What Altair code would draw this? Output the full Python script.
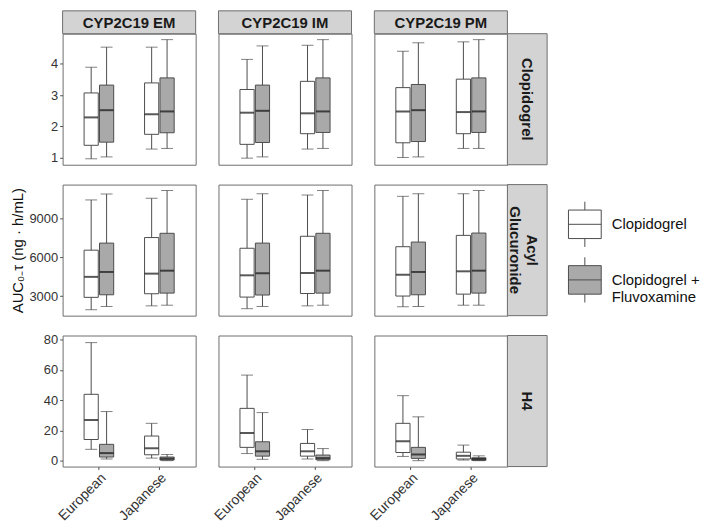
import altair as alt
import pandas as pd

# ---- categories ----
row_labels = ["Clopidogrel", "Acyl\nGlucuronide", "H4"]
genotypes = ["CYP2C19 EM", "CYP2C19 IM", "CYP2C19 PM"]
ethnicities = ["European", "Japanese"]
treatments = ["Clopidogrel", "Clopidogrel + Fluvoxamine"]

# ---- box statistics; order in each row:
# EM-Eur-C, EM-Eur-C+F, EM-Jap-C, EM-Jap-C+F, IM (same 4), PM (same 4)
clop_lo = [0.97, 1.03, 1.28, 1.30, 0.99, 1.03, 1.28, 1.30, 1.01, 1.03, 1.30, 1.30]
clop_q1 = [1.40, 1.50, 1.75, 1.80, 1.43, 1.49, 1.77, 1.81, 1.48, 1.52, 1.77, 1.81]
clop_med = [2.29, 2.52, 2.39, 2.48, 2.44, 2.50, 2.42, 2.48, 2.48, 2.52, 2.46, 2.48]
clop_q3 = [3.07, 3.32, 3.39, 3.55, 3.18, 3.32, 3.44, 3.55, 3.24, 3.34, 3.51, 3.55]
clop_hi = [3.89, 4.53, 4.53, 4.77, 4.14, 4.57, 4.59, 4.77, 4.40, 4.67, 4.70, 4.77]

acyl_lo = [1940, 2190, 2240, 2290, 2020, 2190, 2240, 2290, 2170, 2190, 2290, 2290]
acyl_q1 = [2900, 3100, 3180, 3230, 2920, 3080, 3200, 3230, 3000, 3100, 3150, 3230]
acyl_med = [4490, 4870, 4740, 4970, 4610, 4770, 4790, 4970, 4660, 4870, 4920, 4970]
acyl_q3 = [6560, 7110, 7540, 7870, 6710, 7110, 7640, 7870, 6830, 7190, 7710, 7890]
acyl_hi = [10460, 10920, 10590, 11190, 10510, 10940, 10840, 11190, 10740, 10940, 10940, 11190]

h4_lo = [7.5, 1.1, 1.7, 0.0, 4.7, 0.9, 1.1, 0.0, 2.8, 0.0, 0.4, 0.0]
h4_q1 = [14.0, 2.4, 3.9, 0.4, 8.8, 3.0, 3.0, 0.6, 5.4, 1.5, 1.1, 0.2]
h4_med = [26.9, 5.0, 8.2, 1.3, 18.3, 6.2, 6.2, 1.7, 12.9, 4.1, 3.2, 1.1]
h4_q3 = [43.9, 10.8, 16.3, 2.4, 34.6, 12.5, 11.4, 3.7, 24.7, 8.8, 5.6, 1.9]
h4_hi = [78.1, 32.5, 24.7, 4.1, 56.6, 31.8, 20.6, 8.0, 43.0, 29.0, 10.3, 3.2]

row_stats = [
    (clop_lo, clop_q1, clop_med, clop_q3, clop_hi),
    (acyl_lo, acyl_q1, acyl_med, acyl_q3, acyl_hi),
    (h4_lo, h4_q1, h4_med, h4_q3, h4_hi),
]
row_domains = [[0.78, 4.96], [1480, 11650], [-3.9, 82.8]]
row_ticks = [[1, 2, 3, 4], [3000, 6000, 9000], [0, 20, 40, 60, 80]]

records = []
for r, stats in enumerate(row_stats):
    lo, q1, med, q3, hi = stats
    i = 0
    for c, g in enumerate(genotypes):
        for e in ethnicities:
            for t in treatments:
                records.append(dict(row=r, geno=g, eth=e, trt=t,
                                    lo=lo[i], q1=q1[i], med=med[i], q3=q3[i], hi=hi[i]))
                i += 1
df = pd.DataFrame(records)

W, H = 134, 132
FONT = "Liberation Sans"
LINE = "#4d4d4d"

legend = alt.Legend(
    title=None, orient="none", legendX=509, legendY=175,
    symbolType="M-1,-0.87H1V0.87H-1Z M-1,0H1 M0,-0.87V-1.38 M0,0.87V1.38",
    symbolSize=1089, symbolStrokeColor=LINE, symbolStrokeWidth=1,
    labelFontSize=15, labelFont=FONT, labelColor="#111", labelOffset=10,
    rowPadding=6,
    labelExpr="datum.label == 'Clopidogrel + Fluvoxamine' ? ['Clopidogrel +', 'Fluvoxamine'] : datum.label",
)


def panel(r, c):
    d = df[(df.row == r) & (df.geno == genotypes[c])]
    if r == 2:
        xaxis = alt.Axis(title=None, labelAngle=-45, labelAlign="right", labelBaseline="top",
                         labelFontSize=14, ticks=True, tickSize=3, labelPadding=1)
    else:
        xaxis = None
    if c == 0:
        yaxis = alt.Axis(values=row_ticks[r], format="d",
                         title="AUC₀₋τ (ng · h/mL)" if r == 1 else None,
                         titlePadding=3)
    else:
        yaxis = None
    x = alt.X("eth:N", scale=alt.Scale(domain=ethnicities, paddingInner=0, paddingOuter=0.1), axis=xaxis)
    xo = alt.XOffset("trt:N", scale=alt.Scale(domain=treatments, paddingInner=0.08, paddingOuter=1.0))
    ys = alt.Scale(domain=row_domains[r], nice=False, zero=False)
    base = alt.Chart(d).encode(x=x, xOffset=xo)
    whisk = base.mark_rule(color=LINE, strokeWidth=1).encode(
        y=alt.Y("lo:Q", scale=ys, axis=yaxis), y2="hi:Q")
    box = base.mark_bar(stroke=LINE, strokeWidth=1).encode(
        y=alt.Y("q1:Q", scale=ys, axis=yaxis), y2="q3:Q",
        fill=alt.Fill("trt:N", scale=alt.Scale(domain=treatments, range=["white", "#a9a9a9"]), legend=legend))
    cap_lo = base.mark_tick(color=LINE, thickness=1, size=12).encode(y=alt.Y("lo:Q", scale=ys, axis=yaxis))
    cap_hi = base.mark_tick(color=LINE, thickness=1, size=12).encode(y=alt.Y("hi:Q", scale=ys, axis=yaxis))
    med = base.mark_tick(color="#111", thickness=2, size=14).encode(y=alt.Y("med:Q", scale=ys, axis=yaxis))
    layers = []
    if r == 0:
        sd = pd.DataFrame({"label": [genotypes[c]]})
        layers.append(alt.Chart(sd).mark_rect(fill="#d3d3d3", stroke="#6e6e6e", strokeWidth=1).encode(
            x=alt.value(0), x2=alt.value(W), y=alt.value(-23), y2=alt.value(0)))
        layers.append(alt.Chart(sd).mark_text(font=FONT, fontSize=15, fontWeight="bold", color="#1a1a1a",
                                              align="center", baseline="middle").encode(
            x=alt.value(W / 2), y=alt.value(-11), text="label:N"))
    if c == 2:
        lab = row_labels[r]
        nlines = lab.count("\n") + 1
        rd = pd.DataFrame({"label": [lab]})
        layers.append(alt.Chart(rd).mark_rect(fill="#d3d3d3", stroke="#6e6e6e", strokeWidth=1).encode(
            x=alt.value(W), x2=alt.value(W + 40), y=alt.value(0), y2=alt.value(H)))
        layers.append(alt.Chart(rd).mark_text(font=FONT, fontSize=15, fontWeight="bold", color="#1a1a1a",
                                              align="center", baseline="middle", angle=90,
                                              lineBreak="\n").encode(
            x=alt.value(W + 20 + 5 * (nlines - 1)), y=alt.value(H / 2), text="label:N"))
    layers += [whisk, box, cap_lo, cap_hi, med]
    return alt.layer(*layers).properties(width=W, height=H)


panels = [panel(r, c) for r in range(3) for c in range(3)]

chart = alt.concat(
    *panels, columns=3, spacing=alt.RowColnumber(row=20, column=23), bounds="flush"
).properties(padding={"top": 0, "left": 2, "right": 1, "bottom": 0}).configure_view(
    stroke="#6e6e6e", strokeWidth=1
).configure_axis(
    domain=False, grid=False, tickColor="#555", tickSize=3, labelColor="#333",
    labelFont=FONT, titleFont=FONT, labelFontSize=13, titleFontSize=15,
    titleFontWeight="normal", titleColor="#111", labelPadding=2
)

chart.save("out.html", embed_options={"renderer": "svg", "actions": False})
